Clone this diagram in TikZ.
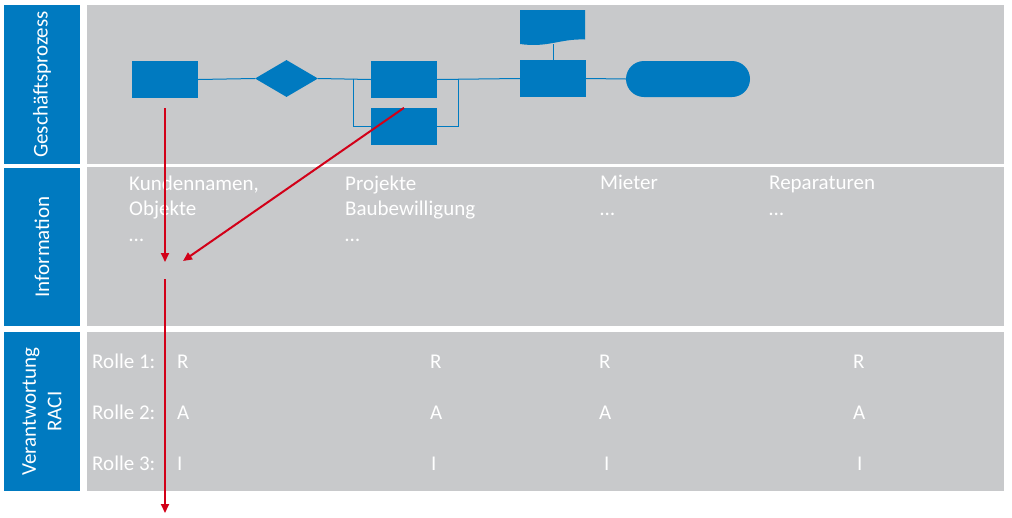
\documentclass[tikz,border=0pt]{standalone}
\usepackage{fontspec}
\setmainfont{Carlito}
\usetikzlibrary{shapes.geometric,arrows.meta,positioning}
\definecolor{laneblue}{RGB}{0,122,192}
\definecolor{lanegray}{RGB}{200,201,203}
\definecolor{trackred}{RGB}{210,0,24}
\newcommand{\lanefont}{\fontsize{21}{25.5}\selectfont}
\tikzset{
  lanehead/.style={fill=laneblue,text=white,rotate=90,minimum width=#1,minimum height=76pt,inner sep=0pt,align=center,font=\lanefont},
  lanebody/.style={fill=lanegray,minimum width=917pt,minimum height=#1,inner sep=0pt},
  procbox/.style={fill=laneblue,minimum width=66pt,minimum height=37pt,inner sep=0pt},
  celltext/.style={text=white,font=\lanefont,align=left,anchor=base west,inner sep=0pt},
}

\begin{document}
\begin{tikzpicture}[x=1pt,y=-1pt,
    flow/.style={laneblue,line width=1pt},
    track/.style={trackred,line width=2pt,-{Triangle[length=9pt,width=8pt]}},
  ]
    \useasboundingbox (0,0) rectangle (1012,517);

    %────────── LANES ──────────────
    \node[lanehead=159pt] (head1) at (42,84.5) {Geschäftsprozess};
    \node[lanehead=158pt] (head2) at (42,247) {Information};
    \node[lanehead=159pt] (head3) at (42,411.5) {Verantwortung\\RACI};
    \node[lanebody=159pt] (body1) at (545.5,84.5) {};
    \node[lanebody=159pt] (body2) at (545.5,246.5) {};
    \node[lanebody=159pt] (body3) at (545.5,411.5) {};

    %────────── PROCESS ────────────
    \node[procbox] (proc1) at (165,79.5) {};
    \node[fill=laneblue,diamond,minimum width=63pt,minimum height=37pt,inner sep=0pt] (decide) at (286.5,78.5) {};
    \node[procbox] (proc2) at (404,79.5) {};
    \node[procbox] (proc3) at (404,126.5) {};
    \node[procbox] (proc4) at (553,78.5) {};
    \node[fill=laneblue,rounded corners=18pt,minimum width=124pt,minimum height=36pt,inner sep=0pt] (finish) at (688,79) {};
    \fill[laneblue] (520,10) -- (585,10) -- (585,39.5) .. controls (560,38.5) and (548,48) .. (520,44) -- cycle;
    \coordinate (docfoot) at (553,44);
    \coordinate (splitL) at (353,78.5);
    \coordinate (splitR) at (458,78.5);

    \draw[flow] (proc1.east) -- (decide.west);
    \draw[flow] (decide.east) -- (proc2.west);
    \draw[flow] (proc2.east) -- (proc4.west);
    \draw[flow] (proc4.east) -- (finish.west);
    \draw[flow] (splitL) |- (proc3.west);
    \draw[flow] (proc3.east) -| (splitR);
    \draw[flow] (docfoot) -- (proc4.north);

    %────────── INFORMATION ────────
    % base = baseline of the last line
    \node[celltext] (info1) at (129,241) {Kundennamen,\\Objekte\\…};
    \node[celltext] (info2) at (345,241) {Projekte\\Baubewilligung\\…};
    \node[celltext] (info3) at (600,215) {Mieter\\…};
    \node[celltext] (info4) at (769,215) {Reparaturen\\…};

    %────────── RACI ───────────────
    \foreach \row/\base in {1/368,2/419,3/470}
      \node[celltext] (role\row) at (92,\base) {Rolle \row:};
    \foreach \col/\xr/\xi in {1/177/177,2/430/431,3/599/604,4/853/857} {
      \node[celltext] (r\col) at (\xr,368) {R};
      \node[celltext] (a\col) at (\xr,419) {A};
      \node[celltext] (i\col) at (\xi,470) {I};
    }

    %────────── TRACE ──────────────
    \coordinate (gapTop) at (165,262);
    \coordinate (gapBot) at (165,279);
    \coordinate (bottom) at (165,513);
    \coordinate (hit) at (183,261);
    \draw[track] ([yshift=-10pt]proc1.south) -- (gapTop);
    \draw[track] (proc3.north) -- (hit);
    \draw[track] (gapBot) -- (bottom);
  \end{tikzpicture}
\end{document}
